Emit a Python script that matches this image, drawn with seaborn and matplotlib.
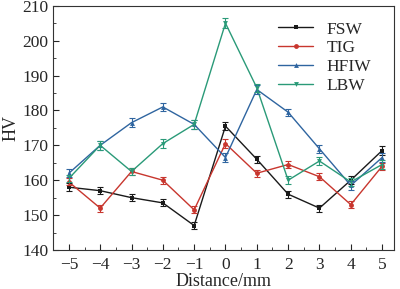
import numpy as np
import pandas as pd
import matplotlib
matplotlib.use("Agg")
import matplotlib.pyplot as plt
import seaborn as sns
from matplotlib.ticker import MultipleLocator

distance = [-5, -4, -3, -2, -1, 0, 1, 2, 3, 4, 5]
fsw = [158, 157, 155, 153.5, 147, 175.5, 166, 156, 152, 160, 168.5]
tig = [159.5, 152, 162.5, 160, 151.5, 170.5, 162, 164.5, 161, 153, 164]
hfiw = [162, 170, 176.5, 181, 176, 166.5, 186, 179.5, 169, 158.5, 166.5]
lbw = [160.5, 170, 162.5, 170.5, 176, 205, 186.5, 160, 165.5, 159.5, 164.5]
err_fsw = [1.2, 1.0, 1.0, 1.0, 1.0, 1.2, 1.0, 1.0, 1.0, 1.2, 1.2]
err_tig = [1.0, 1.0, 1.0, 1.0, 1.0, 1.2, 1.0, 1.0, 1.0, 1.0, 1.0]
err_hfiw = [1.2, 1.2, 1.2, 1.2, 1.2, 1.2, 1.2, 1.0, 1.2, 1.2, 1.2]
err_lbw = [1.0, 1.2, 1.0, 1.2, 1.2, 1.5, 1.2, 1.2, 1.2, 1.2, 1.2]
methods = ["FSW", "TIG", "HFIW", "LBW"]
colors = ["#1a1a1a", "#c8362e", "#2f65a0", "#2a9a78"]
markers = ["s", "o", "^", "v"]

sns.set_style("ticks")
plt.rcParams['font.family'] = ['Liberation Serif', 'DejaVu Serif']

df = pd.DataFrame({"distance": distance * 4,
                   "hv": fsw + tig + hfiw + lbw,
                   "method": sum([[m] * len(distance) for m in methods], [])})
errs = [err_fsw, err_tig, err_hfiw, err_lbw]

fig, ax = plt.subplots(figsize=(4, 2.89), dpi=100)
sns.lineplot(data=df, x="distance", y="hv", hue="method", style="method",
             palette=colors, markers=markers, dashes=False, linewidth=1.0,
             markersize=3.5, markeredgewidth=0, ax=ax)
for m, c, e in zip(methods, colors, errs):
    sub = df[df.method == m]
    ax.errorbar(sub.distance, sub.hv, yerr=e, fmt="none", ecolor=c,
                elinewidth=0.8, capsize=2.5, capthick=0.8)

ax.set_xlim(-5.5, 5.38)
ax.set_ylim(140, 210)
ax.set_xticks(distance)
ax.set_xticklabels([str(v).replace("-", "\u2212") for v in distance])
ax.xaxis.set_minor_locator(MultipleLocator(0.5))
ax.yaxis.set_major_locator(MultipleLocator(10))
ax.yaxis.set_minor_locator(MultipleLocator(5))
ax.tick_params(which="both", direction="in", labelsize=12.5)
ax.tick_params(which="major", length=4)
ax.tick_params(which="minor", length=2)
ax.tick_params(axis="x", pad=5)
ax.set_xlabel("Distance/mm", fontsize=13, labelpad=0)
ax.set_ylabel("HV", fontsize=13, labelpad=2)
ax.legend(frameon=False, fontsize=12.5, loc="upper right",
          bbox_to_anchor=(0.98, 1.0), handlelength=2.0, labelspacing=0.15)
for s in ax.spines.values():
    s.set_color("#333333")

fig.subplots_adjust(left=0.133, right=0.985, top=0.98, bottom=0.135)
fig.savefig("out.png", dpi=100)
